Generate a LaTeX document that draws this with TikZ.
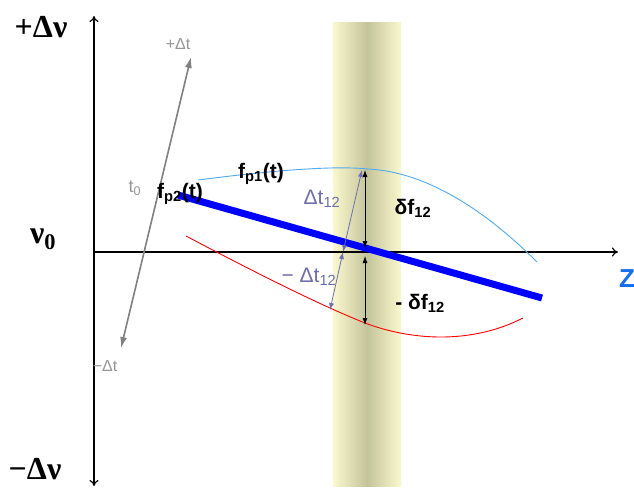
\documentclass[tikz,border=0pt]{standalone}
\usepackage{fontspec}
\setmainfont{Liberation Serif}
\newfontfamily\arial{Liberation Sans}
\usetikzlibrary{arrows.meta}
\definecolor{colA}{RGB}{250,248,205}
\definecolor{colB}{RGB}{196,196,156}
\definecolor{lblue}{RGB}{80,170,240}
\definecolor{slate}{RGB}{110,110,175}
\definecolor{zblue}{RGB}{20,110,240}
\definecolor{gtext}{RGB}{150,150,150}
\tikzset{
  axis/.style={black, line width=1.2pt, -{To[length=6pt,width=9pt]}},
  grayarrow/.style={gray, line width=1.6pt, {Latex[length=11pt,width=7pt]}-{Latex[length=11pt,width=7pt]}},
  darrow/.style={black, line width=0.8pt, {Latex[length=7pt,width=5pt]}-{Latex[length=7pt,width=5pt]}},
  sarrow/.style={slate, line width=0.8pt, {Latex[length=7pt,width=5pt]}-{Latex[length=7pt,width=5pt]}},
  bigserif/.style={font=\fontsize{32}{34}\selectfont\bfseries},
  blbl/.style={font=\arial\fontsize{21}{23}\selectfont\bfseries},
  slbl/.style={font=\arial\fontsize{21}{23}\selectfont, text=slate},
  glbl/.style={font=\arial\fontsize{16}{18}\selectfont, text=gtext},
  inner sep=0pt
}
\begin{document}
\begin{tikzpicture}[x=1pt,y=-1pt]
\useasboundingbox (0,0) rectangle (634,488);
\fill[white] (0,0) rectangle (634,488);
% column
\shade[left color=colA, right color=colA, middle color=colB] (333,22) rectangle (401,486);
% axes
\coordinate (ybot) at (94,486);
\coordinate (ytop) at (94,16);
\coordinate (xl) at (94,252);
\coordinate (xr) at (618,252);
\draw[axis] (xl) -- (xr);
\draw[axis] (94,252) -- (ytop);
\draw[axis] (94,252) -- (ybot);
% axis labels
\node[bigserif] (pdn) at (41,27) {+Δν};
\node[bigserif] (mdn) at (35,469) {−Δν};
\node[bigserif] (nu0) at (43,239) {ν\textsubscript{0}};
\node[font=\arial\fontsize{26}{28}\selectfont\bfseries, text=zblue, anchor=west] (zl) at (619,279) {Z};
% gray time arrow
\coordinate (gtop) at (191,57);
\coordinate (gbot) at (121,348);
\draw[grayarrow] (gbot) -- (gtop);
\node[glbl] (pdt) at (178,44) {+Δt};
\node[glbl] (mdt) at (105,366) {−Δt};
\node[glbl, font=\arial\fontsize{18}{20}\selectfont] (t0) at (135,188) {t\textsubscript{0}};
% curves
\draw[lblue, line width=0.9pt] (198,180) .. controls (260,172) and (330,165) .. (368,169) .. controls (430,172) and (490,215) .. (537,262);
\draw[red, line width=0.9pt] (186,236) .. controls (260,275) and (320,305) .. (365,323) .. controls (410,340) and (470,345) .. (523,318);
% thick blue line
\coordinate (bl1) at (178,195);
\coordinate (bl2) at (542,298);
\draw[blue, line width=7pt] (bl1) -- (bl2);
% delta f arrows
\coordinate (fa1) at (365,170);
\coordinate (fa2) at (365,248);
\coordinate (fa3) at (365,256);
\coordinate (fa4) at (365,325);
\draw[darrow] (fa1) -- (fa2);
\draw[darrow] (fa3) -- (fa4);
% delta t arrows
\coordinate (tc) at (343,252);
\coordinate (tu) at (362,170);
\coordinate (td) at (330,310);
\draw[sarrow] (tc) -- (tu);
\draw[sarrow] (tc) -- (td);
% labels
\node[blbl] (fp1) at (261,174) {f\textsubscript{p1}(t)};
\node[blbl] (fp2) at (180,194) {f\textsubscript{p2}(t)};
\node[slbl] (dt1) at (322,199) {Δt\textsubscript{12}};
\node[slbl] (dt2) at (309,277) {− Δt\textsubscript{12}};
\node[blbl] (df1) at (413,208) {δf\textsubscript{12}};
\node[blbl] (df2) at (420,303) {- δf\textsubscript{12}};
\end{tikzpicture}
\end{document}
